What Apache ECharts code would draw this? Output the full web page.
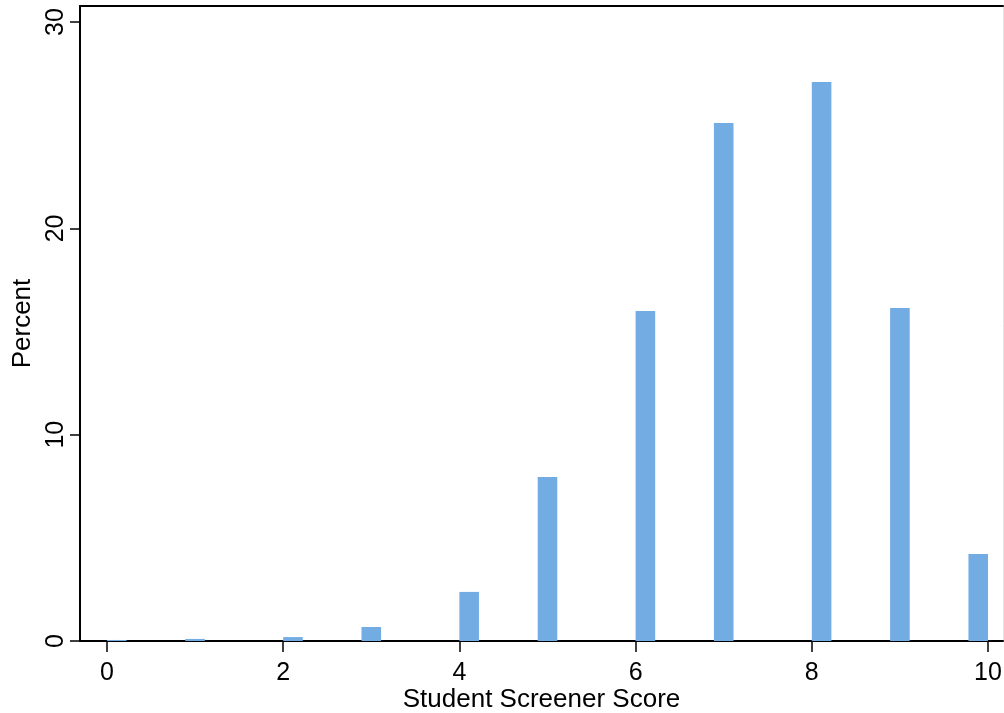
<!DOCTYPE html>
<html>
<head>
<meta charset="utf-8">
<script src="https://cdn.jsdelivr.net/npm/echarts@6/dist/echarts.min.js"></script>
<style>
html,body{margin:0;padding:0;background:#fff;}
#chart{width:1004px;height:713px;}
</style>
</head>
<body>
<div id="chart"></div>
<script>
// ---- data ----
const scores = [0, 1, 2, 3, 4, 5, 6, 7, 8, 9, 10];
const percents = [0.05, 0.1, 0.19, 0.68, 2.38, 7.95, 16.0, 25.11, 27.1, 16.14, 4.22];
const xTickValues = [0, 2, 4, 6, 8, 10];
const yTickValues = [0, 10, 20, 30];
const binMin = 0;
const binMax = 10;
const binCount = 45;
const xTitle = 'Student Screener Score';
const yTitle = 'Percent';

// ---- histogram bins built from the data ----
const binWidth = (binMax - binMin) / binCount;
const bins = scores.map(function (s, i) {
  let idx = Math.floor((s - binMin) / binWidth + 1e-9);
  if (idx > binCount - 1) idx = binCount - 1;
  const x0 = binMin + idx * binWidth;
  return [x0, x0 + binWidth, percents[i]];
});

const FONT = '"Liberation Sans", Arial, Helvetica, sans-serif';
const chart = echarts.init(document.getElementById('chart'), null, {renderer: 'canvas'});

const option = {
  backgroundColor: '#ffffff',
  animation: false,
  grid: {left: 80, top: 6, right: 1, bottom: 72, containLabel: false, outerBoundsMode: 'none'},
  xAxis: [{
    type: 'value',
    min: -0.306,
    max: 10.17,
    position: 'bottom',
    name: xTitle,
    nameLocation: 'middle',
    nameGap: 46,
    nameMoveOverlap: false,
    nameTextStyle: {fontFamily: FONT, fontSize: 26, color: '#000'},
    axisLine: {show: true, onZero: false, lineStyle: {color: '#000', width: 2}},
    axisTick: {show: true, customValues: xTickValues, length: 11, lineStyle: {color: '#000', width: 1.5}},
    axisLabel: {show: true, customValues: xTickValues, margin: 20, fontFamily: FONT, fontSize: 25, color: '#000'},
    splitLine: {show: false}
  }, {
    type: 'value',
    min: -0.306,
    max: 10.17,
    position: 'top',
    axisLine: {show: true, onZero: false, lineStyle: {color: '#000', width: 2}},
    axisTick: {show: false},
    axisLabel: {show: false},
    splitLine: {show: false}
  }],
  yAxis: [{
    type: 'value',
    min: 0,
    max: 30.78,
    position: 'left',
    name: yTitle,
    nameLocation: 'middle',
    nameRotate: 90,
    nameGap: 44,
    nameMoveOverlap: false,
    nameTextStyle: {fontFamily: FONT, fontSize: 26, color: '#000'},
    axisLine: {show: true, onZero: false, lineStyle: {color: '#000', width: 2}},
    axisTick: {show: true, customValues: yTickValues, length: 10, lineStyle: {color: '#000', width: 1.5}},
    axisLabel: {show: true, customValues: yTickValues, rotate: 90, margin: 11, fontFamily: FONT, fontSize: 25, color: '#000'},
    splitLine: {show: false}
  }, {
    type: 'value',
    min: 0,
    max: 30.78,
    position: 'right',
    axisLine: {show: true, onZero: false, lineStyle: {color: '#e6e6e6', width: 1}},
    axisTick: {show: false},
    axisLabel: {show: false},
    splitLine: {show: false}
  }],
  series: [{
    type: 'custom',
    xAxisIndex: 0,
    yAxisIndex: 0,
    data: bins,
    encode: {x: [0, 1], y: 2},
    renderItem: function (params, api) {
      const p0 = api.coord([api.value(0), 0]);
      const p1 = api.coord([api.value(1), api.value(2)]);
      return {
        type: 'rect',
        shape: {x: p0[0], y: p1[1], width: p1[0] - p0[0], height: p0[1] - p1[1]},
        style: {fill: '#72ace3'}
      };
    },
    z: 1
  }]
};
chart.setOption(option);
</script>
</body>
</html>
